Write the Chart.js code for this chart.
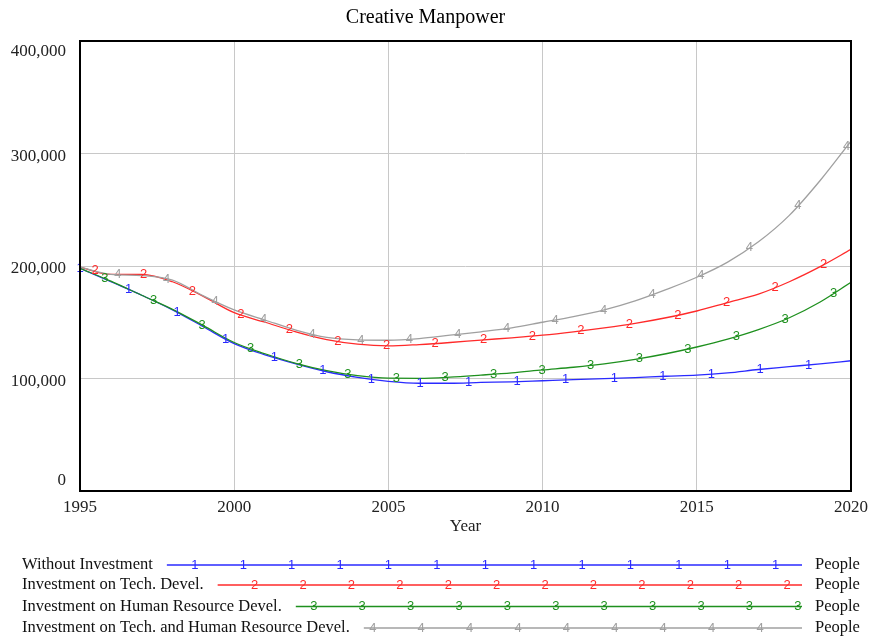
<!DOCTYPE html>
<html>
<head>
<meta charset="utf-8">
<script src="https://cdn.jsdelivr.net/npm/chart.js@4/dist/chart.umd.min.js"></script>
<style>
	html,body{margin:0;padding:0;background:#fff;}
	#wrap{width:872px;height:641px;}
</style>
</head>
<body>
<div id="wrap"><canvas id="myChart" width="872" height="641"></canvas></div>
<script>
// data (people)
let years = [1995,1996,1997,1998,1999,2000,2001,2002,2003,2004,2005,2006,2007,2008,2009,2010,2011,2012,2013,2014,2015,2016,2017,2018,2019,2020];
let withoutInvestment = [198000,186000,174000,161000,146000,131000,121000,113000,106000,101000,97500,95800,95800,96500,97000,98000,99000,99800,100800,102000,103000,105000,108000,110500,113000,115800];
let techDevel = [199000,192500,192600,186000,173000,158500,150000,141500,134500,130500,129000,130200,132000,134200,136200,138500,141500,145000,149000,154000,160000,167500,175000,186000,199400,214800];
let hrDevel = [198000,186500,174000,161500,147000,132000,122000,113500,107000,102500,100300,100200,101200,103000,105000,107600,110000,113000,117000,122000,128000,135000,143500,154000,168000,185500];
let techHrDevel = [199000,192500,191500,187500,173500,161000,152000,143000,136500,134300,134000,135500,138500,141500,145000,150000,155000,161000,169000,179000,190000,203500,221500,245000,276000,311000];

let seriesNames = ['Without Investment','Investment on Tech. Devel.','Investment on Human Resource Devel.','Investment on Tech. and Human Resource Devel.'];
let seriesUnits = ['People','People','People','People'];
let yTickValues = [0,100000,200000,300000,400000];

// styles
let colors = ['#2a2aff','#ff2a2a','#1e901e','#a0a0a0'];
let markerStart = [0, 0.49, 0.81, 1.23];   // years after 1995 of first number marker
let markerStep = 1.575;
let legendFirst = [28, 37, 18, 9];
let legendCount = [13, 12, 11, 9];
let serif = "'Liberation Serif', 'DejaVu Serif', serif";

function toPoints(vals){
	return vals.map((v,i)=>({x:years[i], y:v}));
}

function valueAt(vals, t){
	if(t <= years[0]) return vals[0];
	for(let i=1;i<years.length;i++){
		if(t <= years[i]){
			let f = (t - years[i-1])/(years[i]-years[i-1]);
			return vals[i-1] + f*(vals[i]-vals[i-1]);
		}
	}
	return vals[vals.length-1];
}

let allSeries = [withoutInvestment, techDevel, hrDevel, techHrDevel];

// numbered markers on the lines, the y labels, the frame and the bottom legend
let vensimPlugin = {
	id:'vensim',
	afterDatasetsDraw(chart){
		let ctx = chart.ctx;
		let xs = chart.scales.x, ys = chart.scales.y;
		ctx.save();
		ctx.font = "13px 'Liberation Sans', sans-serif";
		ctx.textAlign = 'center';
		ctx.textBaseline = 'middle';
		allSeries.forEach((vals,i)=>{
			ctx.fillStyle = colors[i];
			for(let t = years[0] + markerStart[i]; t <= years[years.length-1] + 0.01; t += markerStep){
				let px = xs.getPixelForValue(t);
				let py = ys.getPixelForValue(valueAt(vals,t));
				ctx.fillText(String(i+1), px, py);
			}
		});
		ctx.restore();
	},
	afterDraw(chart){
		let ctx = chart.ctx;
		let area = chart.chartArea;
		let ys = chart.scales.y;
		ctx.save();
		// frame
		ctx.strokeStyle = '#000';
		ctx.lineWidth = 2;
		ctx.strokeRect(area.left, area.top, area.right-area.left, area.bottom-area.top);
		// y labels, kept inside the plot height
		ctx.font = '17px ' + serif;
		ctx.fillStyle = '#222';
		ctx.textAlign = 'right';
		ctx.textBaseline = 'middle';
		yTickValues.forEach(v=>{
			let py = ys.getPixelForValue(v) + 3;
			py = Math.max(area.top + 11, Math.min(area.bottom - 10, py));
			ctx.fillText(v.toLocaleString('en-US'), area.left - 14, py);
		});
		// legend
		let rowY = [565, 585, 606.5, 628];
		ctx.font = '16.5px ' + serif;
		ctx.textAlign = 'left';
		seriesNames.forEach((name,i)=>{
			let y = rowY[i];
			ctx.fillStyle = '#111';
			ctx.fillText(name, 22, y);
			let start = 22 + ctx.measureText(name).width + 14;
			let end = 802;
			ctx.strokeStyle = colors[i];
			ctx.lineWidth = 1.5;
			ctx.beginPath();
			ctx.moveTo(start, y);
			ctx.lineTo(end, y);
			ctx.stroke();
			ctx.fillStyle = '#111';
			ctx.fillText(seriesUnits[i], 815, y);
			ctx.save();
			ctx.font = "13px 'Liberation Sans', sans-serif";
			ctx.textAlign = 'center';
			ctx.fillStyle = colors[i];
			for(let k = 0; k < legendCount[i]; k++){
				ctx.fillText(String(i+1), start + legendFirst[i] + k*48.4, y);
			}
			ctx.restore();
		});
		ctx.restore();
	}
};

let ctx = document.getElementById('myChart').getContext('2d');
let chart = new Chart(ctx, {
	type:'line',
	data:{
		datasets: allSeries.map((vals,i)=>({
			label: seriesNames[i],
			data: toPoints(vals),
			borderColor: colors[i],
			borderWidth: 1.3,
			pointRadius: 0,
			fill: false,
			cubicInterpolationMode: 'monotone'
		})).reverse()
	},
	options:{
		responsive:false,
		animation:false,
		layout:{padding:{left:0,right:21,top:0,bottom:104}},
		plugins:{
			legend:{display:false},
			tooltip:{enabled:false},
			title:{
				display:true,
				text:'Creative Manpower',
				color:'#000',
				font:{family:serif, size:20, weight:'normal'},
				padding:{top:6,bottom:11}
			}
		},
		scales:{
			x:{
				type:'linear',
				min:1995,
				max:2020,
				ticks:{stepSize:5, padding:6, color:'#222', font:{family:serif, size:17}, callback:v=>String(v)},
				grid:{color:'#c8c8c8', lineWidth:1, drawTicks:false},
				border:{display:false},
				title:{display:true, text:'Year', color:'#222', font:{family:serif, size:17}, padding:{top:0,bottom:0}},
				afterFit(scale){ scale.height = 46; scale.paddingLeft = 0; scale.paddingRight = 0; }
			},
			y:{
				min:0,
				max:400000,
				ticks:{stepSize:100000, display:false},
				grid:{color:'#c8c8c8', lineWidth:1, drawTicks:false},
				border:{display:false},
				afterFit(scale){ scale.width = 80; }
			}
		}
	},
	plugins:[vensimPlugin]
});
</script>
</body>
</html>
